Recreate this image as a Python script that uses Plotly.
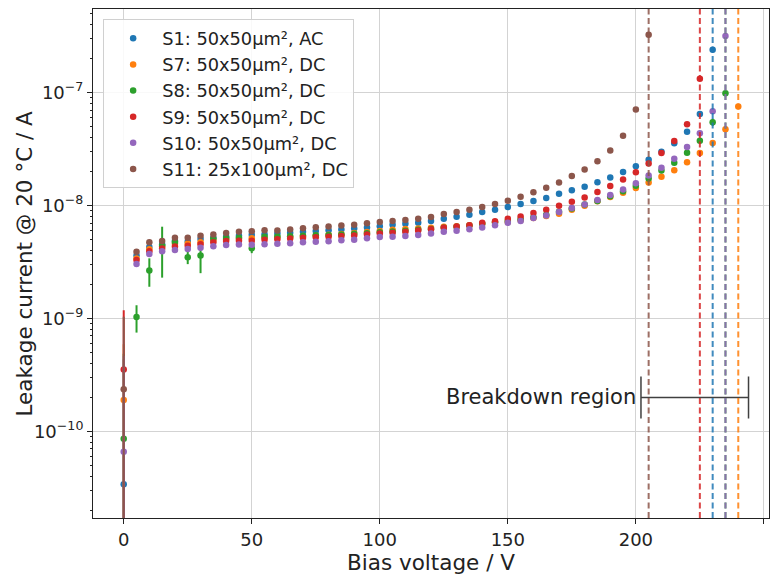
import math
import plotly.graph_objects as go

# ---------------- data ----------------
voltages = [0, 5, 10, 15, 20, 25, 30, 35, 40, 45, 50, 55, 60, 65, 70, 75, 80, 85, 90, 95,
            100, 105, 110, 115, 120, 125, 130, 135, 140, 145, 150, 155, 160, 165, 170, 175,
            180, 185, 190, 195, 200, 205, 210, 215, 220, 225, 230, 235, 240]

names = ["S1: 50x50μm², AC", "S7: 50x50μm², DC", "S8: 50x50μm², DC",
         "S9: 50x50μm², DC", "S10: 50x50μm², DC", "S11: 25x100μm², DC"]
colors = ["#1f77b4", "#ff7f0e", "#2ca02c", "#d62728", "#9467bd", "#8c564b"]

s1 = [3.4e-11, 3.62e-9, 4.3e-9, 4.55e-9, 4.86e-9, 4.8e-9, 5.06e-9, 5.2e-9, 5.3e-9, 5.4e-9,
      5.52e-9, 5.58e-9, 5.66e-9, 5.74e-9, 5.86e-9, 5.95e-9, 6.05e-9, 6.14e-9, 6.26e-9, 6.39e-9,
      6.56e-9, 6.75e-9, 6.9e-9, 7.03e-9, 7.31e-9, 7.66e-9, 7.97e-9, 8.29e-9, 8.76e-9, 9.18e-9,
      9.69e-9, 1.035e-8, 1.1e-8, 1.17e-8, 1.27e-8, 1.37e-8, 1.47e-8, 1.61e-8, 1.77e-8, 1.98e-8,
      2.23e-8, 2.55e-8, 3.0e-8, 3.57e-8, 4.5e-8, 6.47e-8, 2.4e-7]
s7 = [1.9e-10, 3.4e-9, 4.1e-9, 4.35e-9, 4.6e-9, 4.62e-9, 4.73e-9, 4.92e-9, 5.03e-9, 5.08e-9,
      5.13e-9, 5.18e-9, 5.23e-9, 5.3e-9, 5.37e-9, 5.44e-9, 5.52e-9, 5.6e-9, 5.72e-9, 5.84e-9,
      5.95e-9, 6.1e-9, 6.2e-9, 6.26e-9, 6.35e-9, 6.48e-9, 6.56e-9, 6.7e-9, 6.92e-9, 7.07e-9,
      7.17e-9, 7.4e-9, 7.75e-9, 8.1e-9, 8.47e-9, 9.2e-9, 9.96e-9, 1.09e-8, 1.19e-8, 1.3e-8,
      1.43e-8, 1.6e-8, 1.8e-8, 2.06e-8, 2.42e-8, 2.92e-8, 3.59e-8, 4.75e-8, 7.55e-8]
s8 = [8.6e-11, 1.03e-9, 2.66e-9, 4.4e-9, 4.75e-9, 3.48e-9, 3.62e-9, 5.1e-9, 5.15e-9, 5.2e-9,
      4.19e-9, 5.3e-9, 5.33e-9, 5.36e-9, 5.4e-9, 5.45e-9, 5.5e-9, 5.55e-9, 5.62e-9, 5.7e-9,
      5.8e-9, 5.9e-9, 6.0e-9, 6.1e-9, 6.2e-9, 6.35e-9, 6.5e-9, 6.65e-9, 6.9e-9, 7.1e-9,
      7.3e-9, 7.55e-9, 7.9e-9, 8.3e-9, 8.8e-9, 9.4e-9, 1.02e-8, 1.1e-8, 1.21e-8, 1.34e-8,
      1.5e-8, 1.74e-8, 2.04e-8, 2.4e-8, 2.94e-8, 3.76e-8, 5.47e-8, 9.9e-8]
s9 = [3.53e-10, 3.29e-9, 3.95e-9, 4.17e-9, 4.34e-9, 4.4e-9, 4.54e-9, 4.73e-9, 4.85e-9, 4.87e-9,
      4.89e-9, 4.98e-9, 5.03e-9, 5.1e-9, 5.2e-9, 5.25e-9, 5.3e-9, 5.37e-9, 5.44e-9, 5.55e-9,
      5.66e-9, 5.76e-9, 5.86e-9, 6.02e-9, 6.18e-9, 6.35e-9, 6.52e-9, 6.7e-9, 7.03e-9, 7.26e-9,
      7.66e-9, 8.02e-9, 8.58e-9, 9.18e-9, 9.95e-9, 1.08e-8, 1.18e-8, 1.32e-8, 1.49e-8, 1.7e-8,
      1.97e-8, 2.36e-8, 2.92e-8, 3.74e-8, 5.26e-8, 1.33e-7]
s10 = [6.6e-11, 3.04e-9, 3.72e-9, 3.93e-9, 4.04e-9, 4.12e-9, 4.24e-9, 4.36e-9, 4.48e-9, 4.52e-9,
       4.49e-9, 4.54e-9, 4.59e-9, 4.64e-9, 4.73e-9, 4.78e-9, 4.83e-9, 4.92e-9, 4.97e-9, 5.13e-9,
       5.26e-9, 5.3e-9, 5.37e-9, 5.48e-9, 5.66e-9, 5.86e-9, 5.98e-9, 6.18e-9, 6.39e-9, 6.7e-9,
       7.03e-9, 7.31e-9, 7.76e-9, 8.18e-9, 8.76e-9, 9.5e-9, 1.02e-8, 1.12e-8, 1.24e-8, 1.39e-8,
       1.58e-8, 1.85e-8, 2.16e-8, 2.6e-8, 3.3e-8, 4.36e-8, 6.83e-8, 3.18e-7]
s11 = [2.36e-10, 3.9e-9, 4.73e-9, 4.86e-9, 5.2e-9, 5.2e-9, 5.41e-9, 5.55e-9, 5.72e-9, 5.86e-9,
       5.93e-9, 6.05e-9, 6.02e-9, 6.14e-9, 6.3e-9, 6.43e-9, 6.52e-9, 6.65e-9, 6.75e-9, 6.97e-9,
       7.17e-9, 7.31e-9, 7.46e-9, 7.66e-9, 7.92e-9, 8.41e-9, 8.76e-9, 9.18e-9, 9.69e-9, 1.035e-8,
       1.106e-8, 1.2e-8, 1.31e-8, 1.44e-8, 1.6e-8, 1.83e-8, 2.09e-8, 2.47e-8, 3.08e-8, 4.16e-8,
       7.1e-8, 3.25e-7]
series = [s1, s7, s8, s9, s10, s11]

# uncertainty at 0 V for each series
zero_err = [4e-10, 4e-10, 4e-10, 8.3e-10, 4e-10, 8.0e-10]
# visible S8 uncertainties (voltage -> error)
s8_err_v = [5, 10, 15, 20, 25, 30, 50, 230, 235]
s8_err = [2.8e-10, 7.5e-10, 2.1e-9, 2.5e-10, 4.5e-10, 1.1e-9, 4e-10, 4e-9, 4e-9]

breakdown = [230, 240, 235, 225, 235, 205]
bd_region = [202, 244]
bd_label_y = 2e-10

# ---------------- figure ----------------
fig = go.Figure()

# breakdown dashed lines
for b, c in zip(breakdown, colors):
    fig.add_shape(type="line", xref="x", yref="paper", x0=b, x1=b, y0=0, y1=1,
                  line=dict(color=c, width=2, dash="6px,3.5px"), opacity=0.85, layer="above")

for i, (vals, name, col) in enumerate(zip(series, names, colors)):
    xs = voltages[:len(vals)]
    err = [0.0] * len(vals)
    err[0] = zero_err[i]
    if i == 2:
        for v, e in zip(s8_err_v, s8_err):
            err[xs.index(v)] = e
    errm = [min(e, y * 0.99999) for e, y in zip(err, vals)]
    fig.add_trace(go.Scatter(
        x=xs, y=vals, mode="markers", name=name, legendgroup=name,
        marker=dict(color=col, size=6.5),
        error_y=dict(type="data", symmetric=False, array=err, arrayminus=errm,
                     color=col, thickness=2, width=0),
    ))

# breakdown region bar
bd_center = (bd_region[0] + bd_region[1]) / 2
bd_half = (bd_region[1] - bd_region[0]) / 2
fig.add_trace(go.Scatter(
    x=[bd_center], y=[bd_label_y], mode="markers", showlegend=False,
    marker=dict(color="rgba(0,0,0,0)", size=1),
    error_x=dict(type="data", array=[bd_half], color="#404040", thickness=1.5, width=21),
    hoverinfo="skip",
))
fig.add_annotation(x=bd_region[0], y=math.log10(bd_label_y), xref="x", yref="y",
                   text="Breakdown region", showarrow=False, xanchor="right",
                   yanchor="middle", xshift=-3,
                   font=dict(size=21, color="#222222", family="DejaVu Sans"))

# y-axis title as rotated annotation
fig.add_annotation(x=-0.1006, y=0.5, xref="paper", yref="paper",
                   text="Leakage current @ 20 °C / A", showarrow=False, textangle=-90,
                   xanchor="center", yanchor="middle",
                   font=dict(size=21.5, color="#222222", family="DejaVu Sans"))

ytick_vals = [1e-10, 1e-9, 1e-8, 1e-7]
ytick_text = ["10<sup>−10</sup>", "10<sup>−9</sup>", "10<sup>−8</sup>", "10<sup>−7</sup>"]

fig.update_layout(
    width=780, height=577,
    margin=dict(l=93, r=11, t=8, b=50),
    paper_bgcolor="white", plot_bgcolor="white",
    font=dict(family="DejaVu Sans", size=18, color="#222222"),
    showlegend=True,
    legend=dict(x=0.015, y=0.98, xanchor="left", yanchor="top",
                bgcolor="rgba(255,255,255,0.85)", bordercolor="#d0d0d0", borderwidth=1,
                font=dict(size=17.8, family="DejaVu Sans", color="#222222"),
                tracegroupgap=0, itemwidth=48),
)
fig.update_xaxes(
    range=[-12, 252], tickvals=[0, 50, 100, 150, 200, 250],
    ticks="outside", ticklen=5, tickcolor="#222222", tickfont=dict(size=18),
    showline=True, linecolor="#222222", linewidth=1, mirror=True,
    showgrid=True, gridcolor="#d3d3d3", gridwidth=1, zeroline=False,
    title=dict(text="Bias voltage / V", font=dict(size=21.5), standoff=4),
)
fig.update_yaxes(
    type="log", range=[-10.767, -6.259],
    tickvals=ytick_vals, ticktext=ytick_text,
    ticks="outside", ticklen=5, tickcolor="#222222", tickfont=dict(size=18),
    minor=dict(ticks="outside", ticklen=2.5, tickcolor="#222222", dtick="D1", showgrid=False),
    showline=True, linecolor="#222222", linewidth=1, mirror=True,
    showgrid=True, gridcolor="#d3d3d3", gridwidth=1, zeroline=False,
)

fig.write_html("out.html")
